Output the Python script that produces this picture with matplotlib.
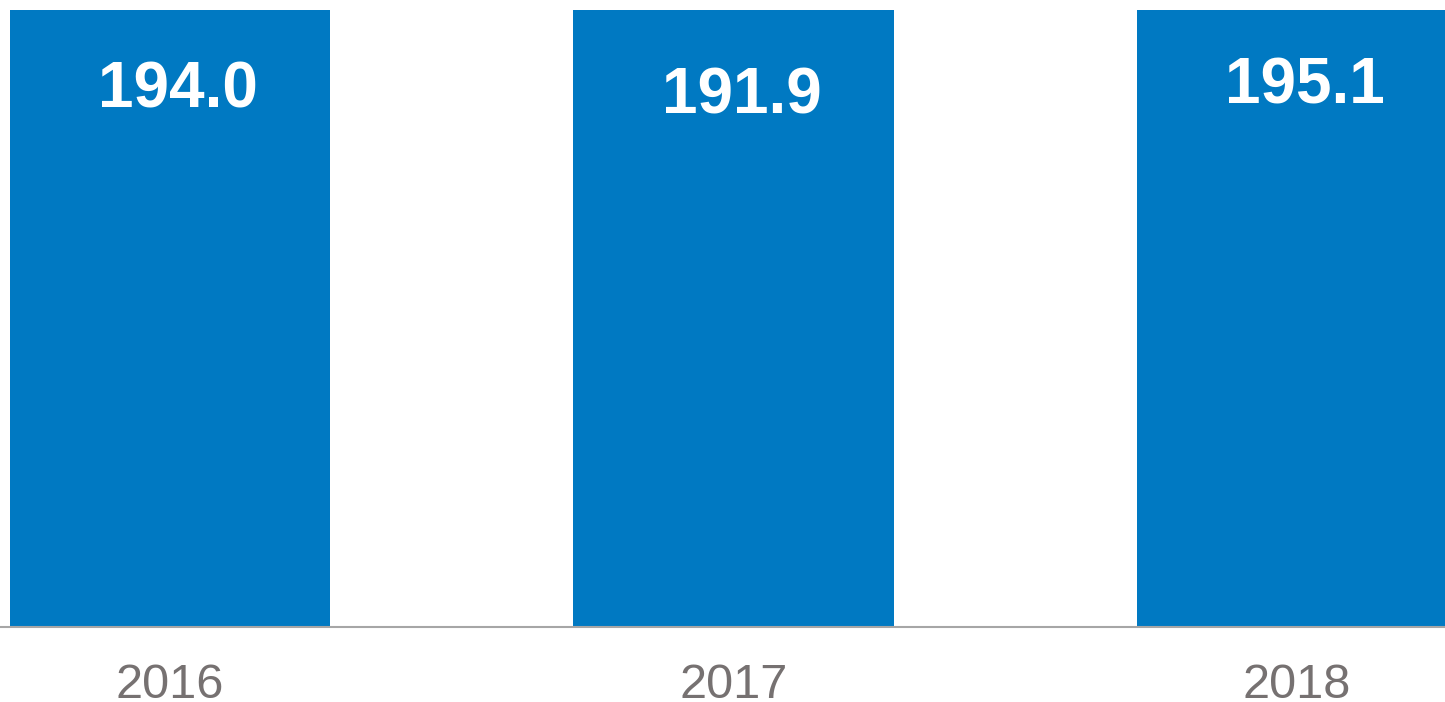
import matplotlib
matplotlib.use("Agg")
import matplotlib.pyplot as plt

years = ["2016", "2017", "2018"]
values = [194.0, 191.9, 195.1]

plt.rcParams['font.family'] = ['Liberation Sans', 'DejaVu Sans']

fig = plt.figure(figsize=(14.45, 7.02), dpi=100)
ax = fig.add_axes([0, 0.1068, 1, 0.8790])

x = range(len(years))
ax.bar(x, values, width=0.568, color='#0079c2')

# value labels sit a fixed distance under each bar's (clipped) top
for i, v in enumerate(values):
    ax.annotate(f"{v:.1f}", xy=(i, v), xytext=(6, -67), textcoords='offset points',
                ha='center', va='center', color='white', fontsize=46,
                fontweight='bold', annotation_clip=False)

ax.set_xlim(-0.3017, 2.2626)
ax.set_ylim(0, 190)
ax.set_xticks(list(x))
ax.set_xticklabels(years, fontsize=35, color='#767171')
ax.tick_params(axis='x', length=0, pad=26)
ax.set_yticks([])
for s in ['top', 'right', 'left']:
    ax.spines[s].set_visible(False)
ax.spines['bottom'].set_color('#a6a6a6')
ax.spines['bottom'].set_linewidth(1.5)

fig.savefig("out.png", dpi=100)
